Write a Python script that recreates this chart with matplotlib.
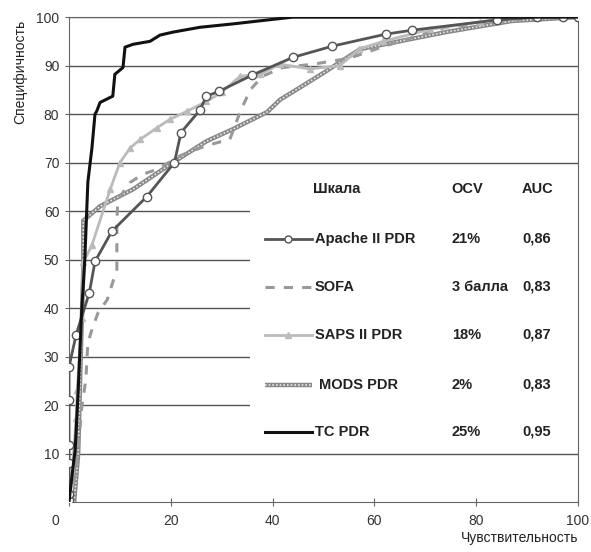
import matplotlib.pyplot as plt
from matplotlib.patches import Rectangle
from matplotlib.transforms import ScaledTranslation

plt.rcParams['font.family'] = ['Liberation Sans', 'DejaVu Sans']

# ROC curves (x = sensitivity, y = specificity)
tc_x = [0, 0.2, 1.2, 1.8, 2.5, 3.1, 3.7, 4.5, 5.1, 5.4, 6.1, 8.6, 9.0, 10.6, 11.0,
        12.6, 15.9, 17.9, 20.4, 25.7, 32.2, 38.9, 44, 100]
tc_y = [0, 2, 10.7, 23, 39.7, 50, 66, 73, 80, 80.5, 82.4, 83.7, 88.2, 89.6, 93.8,
        94.4, 95, 96.3, 96.9, 97.9, 98.6, 99.4, 100, 100]

apache_x = [0, 0, 0, 0, 0, 0, 1.4, 4.0, 5.1, 8.4, 15.3, 20.7, 22.0, 25.7, 27.0,
            29.5, 35.9, 44, 51.7, 62.3, 67.4, 84, 92, 97, 100]
apache_y = [0.5, 1.7, 8, 11.8, 21, 27.9, 34.5, 43.2, 49.6, 55.8, 63, 70, 76.2, 80.8,
            83.7, 84.7, 88, 91.7, 94, 96.5, 97.3, 99.4, 100, 100, 100]

sofa_x = [0.5, 1.8, 2.5, 3.3, 3.7, 4.7, 5.7, 7.5, 9.4, 9.4, 9.6, 12, 14.5, 17.3, 22,
          27, 31.6, 33.6, 35.6, 38, 42, 48, 55, 62, 74, 88, 100]
sofa_y = [0, 10.7, 19.6, 25.2, 32.8, 36.2, 39, 41.7, 48, 58, 62.4, 65.9, 67.6, 68.6,
          71.5, 73.5, 74.8, 80.4, 85, 87.8, 89.6, 90.3, 91.5, 94, 97.9, 99.5, 100]

saps_x = [0.2, 1.4, 1.6, 2.5, 2.8, 4.5, 8.1, 10, 12, 14, 17.3, 19.8, 23.2, 27, 30,
          33.6, 37.5, 41.5, 47.3, 53.2, 57, 61.7, 71, 80.7, 87, 100]
saps_y = [0, 17.4, 23, 38, 49.4, 53, 64.5, 70, 73, 74.8, 77.2, 78.9, 80.6, 82.6,
          84.5, 87.8, 88.2, 90.3, 89.3, 90, 93.4, 95, 97.5, 99, 100, 100]

mods_x = [1, 1.8, 2.3, 2.8, 2.8, 6.1, 12.6, 20.4, 27, 32.2, 38.9, 41.5, 45.4, 50,
          57.2, 74, 87, 100]
mods_y = [0, 10, 30, 48, 58, 61, 64.5, 70, 74.4, 76.9, 80.4, 83, 85.5, 88.5, 93.4,
          96.9, 99.2, 100]

scales = ['Apache II PDR', 'SOFA', 'SAPS II PDR', 'MODS PDR', 'TC PDR']
ocv = ['21%', '3 балла', '18%', '2%', '25%']
auc = ['0,86', '0,83', '0,87', '0,83', '0,95']

fig = plt.figure(figsize=(5.91, 5.52), dpi=100)
ax = fig.add_axes([0.1168, 0.0906, 0.8612, 0.8784])


def draw_apache(ax, x, y, **kw):
    ax.plot(x, y, color='#555555', lw=2, marker='o', ms=6, mfc='white',
            mec='#555555', mew=1, zorder=4, **kw)


def draw_sofa(ax, x, y, **kw):
    ax.plot(x, y, color='#999999', lw=2.2, ls=(0, (3, 3)), zorder=3, **kw)


def draw_saps(ax, x, y, **kw):
    ax.plot(x, y, color='#bbbbbb', lw=2, marker='^', ms=5, mfc='#bbbbbb',
            mec='#bbbbbb', zorder=3, **kw)


def draw_mods(ax, x, y, **kw):
    ax.plot(x, y, color='#888888', lw=3.2, zorder=3, solid_capstyle='butt', **kw)
    ax.plot(x, y, color='#e8e8e8', lw=1.2, ls=(0, (1, 1.2)), zorder=3, **kw)


def draw_tc(ax, x, y, **kw):
    ax.plot(x, y, color='#111111', lw=2.2, zorder=5, **kw)


draw_mods(ax, mods_x, mods_y)
draw_sofa(ax, sofa_x, sofa_y)
draw_saps(ax, saps_x, saps_y)
draw_apache(ax, apache_x, apache_y)
draw_tc(ax, tc_x, tc_y)

# white legend area hiding the grid
ax.add_patch(Rectangle((35.6, 10.5), 64.4, 58.5, facecolor='white',
                       edgecolor='none', zorder=2))

# table-like legend
hdr_y = 64.5
row_y = [54.3, 44.4, 34.5, 24.2, 14.5]
tk = dict(fontsize=10.5, fontweight='bold', color='#222222', va='center', zorder=6)
ax.text(47.9, hdr_y, 'Шкала', **tk)
ax.text(75.2, hdr_y, 'OCV', **tk)
ax.text(89, hdr_y, 'AUC', **tk)

lx = [38.5, 47.7]
# Apache sample: line with one marker in the middle
ax.plot(lx, [row_y[0]] * 2, color='#555555', lw=2, zorder=6)
ax.plot([43.1], [row_y[0]], marker='o', ms=5, mfc='white', mec='#555555', zorder=7)
draw_sofa(ax, lx, [row_y[1]] * 2)
# SAPS sample: line with one triangle in the middle
ax.plot(lx, [row_y[2]] * 2, color='#bbbbbb', lw=2, zorder=6)
ax.plot([43.1], [row_y[2]], marker='^', ms=5, color='#bbbbbb', zorder=7)
draw_mods(ax, lx, [row_y[3]] * 2)
draw_tc(ax, lx, [row_y[4]] * 2)

for i, name in enumerate(scales):
    yy = row_y[i]
    ax.text(48.3 if i != 3 else 49.1, yy, name, **tk)
    ax.text(75.2, yy, ocv[i], **tk)
    ax.text(89, yy, auc[i], **tk)

ax.set_xlim(0, 100)
ax.set_ylim(0, 100)
ax.set_xticks([0, 20, 40, 60, 80, 100])
ax.set_yticks(range(10, 101, 10))
ax.grid(axis='y', color='#555555', lw=1, zorder=1)
ax.set_axisbelow(True)
for s in ax.spines.values():
    s.set_color('#666666')
ax.tick_params(axis='x', direction='inout', length=6, color='#666666',
               labelsize=10, labelcolor='#333333', pad=6)
ax.tick_params(axis='y', length=3, color='#666666', labelsize=10,
               labelcolor='#333333', pad=4)
lbl0 = ax.get_xticklabels()[0]
lbl0.set_transform(lbl0.get_transform() + ScaledTranslation(-0.14, 0, fig.dpi_scale_trans))

fig.text(0.035, 0.87, 'Специфичность', rotation=90, ha='center', va='center',
         fontsize=10, color='#222222')
fig.text(0.978, 0.013, 'Чувствительность', ha='right', va='bottom',
         fontsize=10, color='#222222')

fig.savefig('out.png', dpi=100)
